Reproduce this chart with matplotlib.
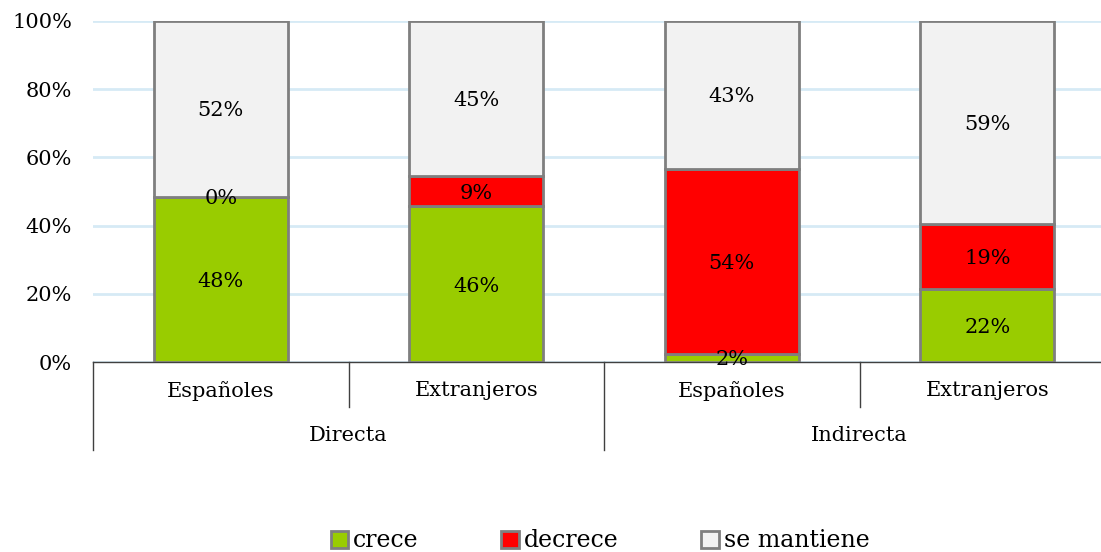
import matplotlib
matplotlib.use("Agg")
import matplotlib.pyplot as plt
from matplotlib.patches import Patch
import numpy as np

plt.rcParams['font.family'] = ['DejaVu Serif']

subgroups = ["Españoles", "Extranjeros", "Españoles", "Extranjeros"]
groups = ["Directa", "Indirecta"]
series_names = ["crece", "decrece", "se mantiene"]
crece = [48.4, 45.7, 2.4, 21.5]
decrece = [0.0, 8.8, 54.2, 19.0]
mantiene = [51.6, 45.5, 43.4, 59.5]
labels_crece = ["48%", "46%", "2%", "22%"]
labels_decrece = ["0%", "9%", "54%", "19%"]
labels_mantiene = ["52%", "45%", "43%", "59%"]
colors = ["#99cc00", "#ff0000", "#f2f2f2"]

fig = plt.figure(figsize=(11.01, 5.52), dpi=100)
ax = fig.add_axes([93/1101, 190/552, 1022/1101, 341/552])

x = np.arange(len(subgroups))
w = 0.525
bottom = np.zeros(len(x))
for vals, labs, col in zip([crece, decrece, mantiene],
                           [labels_crece, labels_decrece, labels_mantiene], colors):
    vals = np.array(vals)
    ax.bar(x, vals, w, bottom=bottom, color=col, edgecolor="#7f7f7f", linewidth=2, zorder=3)
    for xi, b, v, l in zip(x, bottom, vals, labs):
        ax.text(xi, b + v / 2, l, ha="center", va="center_baseline", fontsize=15,
                color="#000000", zorder=4)
    bottom = bottom + vals

ax.set_xlim(-0.5, 3.5)
ax.set_ylim(0, 100)
ax.set_yticks([0, 20, 40, 60, 80, 100])
ax.set_yticklabels(["0%", "20%", "40%", "60%", "80%", "100%"], fontsize=15)
ax.tick_params(axis="y", length=0, pad=15)
ax.set_xticks([])
ax.yaxis.grid(True, color="#d6eaf5", linewidth=2, zorder=0)
for s in ["left", "right", "top"]:
    ax.spines[s].set_visible(False)
ax.spines["bottom"].set_color("#404040")
ax.spines["bottom"].set_linewidth(1)

trans = ax.get_xaxis_transform()
for xi, name in zip(x, subgroups):
    ax.text(xi, -0.085, name, transform=trans, ha="center", va="center", fontsize=15)
for gi, g in enumerate(groups):
    ax.text(gi * 2 + 0.5, -0.217, g, transform=trans, ha="center", va="center", fontsize=15)
for xs in [-0.5, 1.5, 3.5]:
    ax.plot([xs, xs], [0, -0.258], transform=trans, color="#404040", lw=1, clip_on=False)
for xs in [0.5, 2.5]:
    ax.plot([xs, xs], [0, -0.132], transform=trans, color="#404040", lw=1, clip_on=False)

handles = [Patch(facecolor=c, edgecolor="#7f7f7f", linewidth=2) for c in colors]
fig.legend(handles, series_names, loc="center", bbox_to_anchor=(0.545, 0.02), ncol=3,
           frameon=False, fontsize=17, handlelength=0.75, handleheight=0.75,
           handletextpad=0.2, columnspacing=3.5)

fig.savefig("out.png", dpi=100)
